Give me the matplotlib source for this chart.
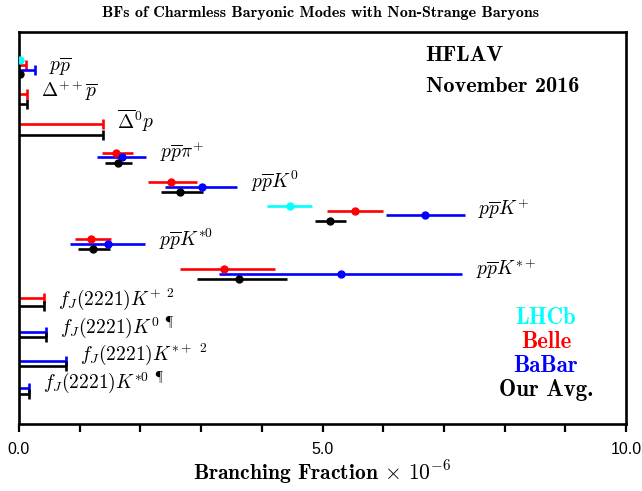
import numpy as np
import matplotlib
matplotlib.use("Agg")
import matplotlib.pyplot as plt
from matplotlib.ticker import MultipleLocator

plt.rcParams['mathtext.fontset'] = 'cm'

nan = np.nan

# decay modes, top to bottom
modes = [r"$p\overline{p}$", r"$\Delta^{++}\overline{p}$", r"$\overline{\Delta}^{0}p$",
         r"$p\overline{p}\pi^{+}$", r"$p\overline{p}K^{0}$", r"$p\overline{p}K^{+}$",
         r"$p\overline{p}K^{*0}$", r"$p\overline{p}K^{*+}$",
         r"$f_J(2221)K^{+\;\;\mathrm{2}}$", r"$f_J(2221)K^{0\;\;\P}$",
         r"$f_J(2221)K^{*+\;\;\mathrm{2}}$", r"$f_J(2221)K^{*0\;\;\P}$"]

# measurements (x 10^-6): central, minus, plus ; upper limits
lhcb_val = [0.015, nan, nan, nan, nan, 4.46, nan, nan, nan, nan, nan, nan]
lhcb_lo  = [0.003, nan, nan, nan, nan, 0.37, nan, nan, nan, nan, nan, nan]
lhcb_hi  = [0.003, nan, nan, nan, nan, 0.36, nan, nan, nan, nan, nan, nan]

belle_val = [nan, nan, nan, 1.60, 2.50, 5.54, 1.18, 3.37, nan, nan, nan, nan]
belle_lo  = [nan, nan, nan, 0.23, 0.38, 0.46, 0.26, 0.72, nan, nan, nan, nan]
belle_hi  = [nan, nan, nan, 0.28, 0.43, 0.45, 0.33, 0.84, nan, nan, nan, nan]
belle_lim = [0.11, 0.14, 1.38, nan, nan, nan, nan, nan, 0.41, nan, nan, nan]

babar_val = [nan, nan, nan, 1.69, 3.01, 6.69, 1.47, 5.30, nan, nan, nan, nan]
babar_lo  = [nan, nan, nan, 0.41, 0.61, 0.65, 0.63, 2.00, nan, nan, nan, nan]
babar_hi  = [nan, nan, nan, 0.41, 0.58, 0.65, 0.60, 2.00, nan, nan, nan, nan]
babar_lim = [0.27, nan, nan, nan, nan, nan, nan, nan, nan, 0.45, 0.77, 0.16]

avg_val = [0.015, nan, nan, 1.63, 2.66, 5.13, 1.22, 3.63, nan, nan, nan, nan]
avg_lo  = [0.003, nan, nan, 0.22, 0.32, 0.26, 0.25, 0.70, nan, nan, nan, nan]
avg_hi  = [0.003, nan, nan, 0.23, 0.37, 0.26, 0.28, 0.79, nan, nan, nan, nan]
avg_lim = [nan, 0.14, 1.38, nan, nan, nan, nan, nan, 0.41, 0.45, 0.77, 0.16]

# vertical layout (pixels below the top of the frame)
lhcb_y  = [28, nan, nan, nan, nan, 174, nan, nan, nan, nan, nan, nan]
belle_y = [33, 62, 92, 121, 150, 179, 207, 237, 266, nan, nan, nan]
babar_y = [38, nan, nan, 125, 155, 183, 212, 242, nan, 300, 329, 356]
avg_y   = [42, 72, 103, 131, 160, 189, 217, 247, 274, 305, 334, 362]
label_y = [40, 66, 96, 127, 157, 184, 215, 244, 273, 301, 328, 356]

fig = plt.figure(figsize=(6.42, 4.91), dpi=100)
ax = fig.add_axes([19/642, 67/491, 607/642, 392/491])
ax.set_xlim(0, 10)
ax.set_ylim(392, 0)

lw = 1.9
ms = 5
cap = 5

def draw(vals, lo, hi, lims, ys, color):
    for i in range(len(modes)):
        if not np.isnan(vals[i]):
            ax.errorbar(vals[i], ys[i], xerr=[[lo[i]], [hi[i]]], fmt='o', color=color,
                        ms=ms, elinewidth=lw, capsize=0, zorder=3)
        if lims is not None and not np.isnan(lims[i]):
            ax.plot([0, lims[i]], [ys[i], ys[i]], color=color, lw=lw, solid_capstyle='butt')
            ax.plot([lims[i], lims[i]], [ys[i]-cap, ys[i]+cap], color=color, lw=lw,
                    solid_capstyle='butt')

draw(lhcb_val, lhcb_lo, lhcb_hi, None, lhcb_y, 'cyan')
draw(belle_val, belle_lo, belle_hi, belle_lim, belle_y, 'red')
draw(babar_val, babar_lo, babar_hi, babar_lim, babar_y, 'blue')
draw(avg_val, avg_lo, avg_hi, avg_lim, avg_y, 'black')

# mode labels to the right of the rightmost mark
for i, m in enumerate(modes):
    ends = [lhcb_val[i] + lhcb_hi[i], belle_val[i] + belle_hi[i], babar_val[i] + babar_hi[i],
            avg_val[i] + avg_hi[i], belle_lim[i], babar_lim[i], avg_lim[i]]
    right = np.nanmax(ends)
    ax.text(right + 0.23, label_y[i], m, fontsize=14, ha='left', va='baseline')

ax.text(0.67, 0.94, "HFLAV", transform=ax.transAxes, family='cmb10', fontsize=16,
        ha='left', va='center')
ax.text(0.67, 0.86, "November 2016", transform=ax.transAxes, family='cmb10', fontsize=16,
        ha='left', va='center')

leg_names = ["LHCb", "Belle", "BaBar", "Our Avg."]
leg_colors = ['cyan', 'red', 'blue', 'black']
for k, (n, c) in enumerate(zip(leg_names, leg_colors)):
    ax.text(0.868, 0.27 - k*0.061, n, transform=ax.transAxes, family='cmb10',
            fontsize=16.5, color=c, ha='center', va='center')

ax.xaxis.set_major_locator(MultipleLocator(5))
ax.xaxis.set_minor_locator(MultipleLocator(1))
ax.xaxis.set_major_formatter(plt.FuncFormatter(lambda v, p: f"{v:.1f}"))
ax.tick_params(axis='x', which='both', direction='out', length=6, width=1.6,
               labelsize=11.5, pad=7, top=False)
ax.tick_params(axis='y', left=False, labelleft=False)
for lab in ax.get_xticklabels():
    lab.set_family('Liberation Sans')
for s in ax.spines.values():
    s.set_linewidth(1.9)

ax.set_xlabel(r"Branching Fraction $\times$ $\mathbf{10}^{-6}$", family='cmb10', fontsize=15.5,
              labelpad=1)
fig.text(0.5, 0.973, "BFs of Charmless Baryonic Modes with Non-Strange Baryons",
         family='cmb10', fontsize=11.5, ha='center', va='center')

fig.savefig("out.png", dpi=100)
